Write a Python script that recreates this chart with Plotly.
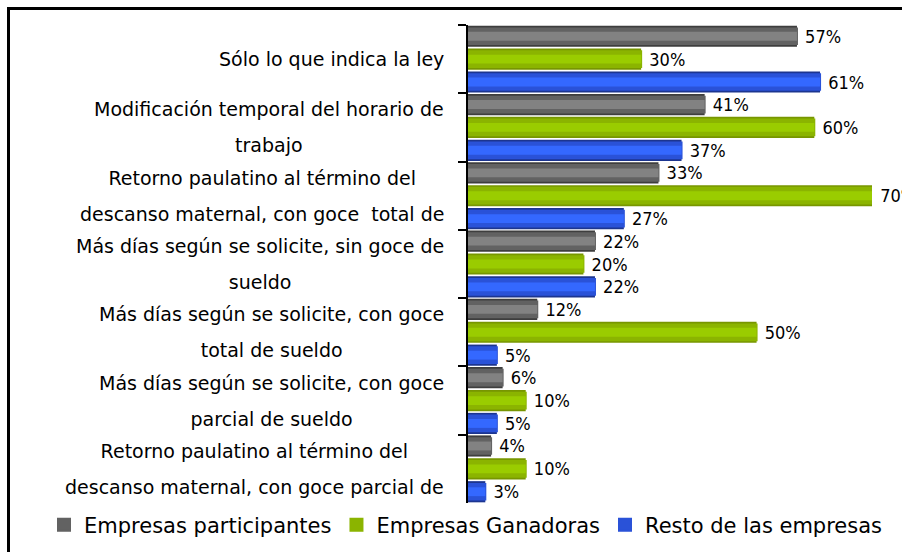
import plotly.graph_objects as go

# ---------------- data ----------------
categories = [
    "Sólo lo que indica la ley",
    "Modificación temporal del horario de<br>trabajo",
    "Retorno paulatino al término del<br>descanso maternal, con goce  total de",
    "Más días según se solicite, sin goce de<br>sueldo",
    "Más días según se solicite, con goce<br>total de sueldo",
    "Más días según se solicite, con goce<br>parcial de sueldo",
    "Retorno paulatino al término del<br>descanso maternal, con goce parcial de",
]
series_names = ["Empresas participantes", "Empresas Ganadoras", "Resto de las empresas"]
participantes = [57, 41, 33, 22, 12, 6, 4]
ganadoras = [30, 60, 70, 20, 50, 10, 10]
resto = [61, 37, 27, 22, 5, 5, 3]
series_values = [participantes, ganadoras, resto]

# ---------------- styling ----------------
# (edge, mid, centre) colours to mimic the vertical gradient of each bar
palettes = [
    ("#3e3e3e", "#626262", "#828282"),
    ("#779600", "#8bb400", "#9acc00"),
    ("#1c3590", "#2a52d8", "#3468ff"),
]
bar_w = 0.31
offsets = [-0.49, -0.155, 0.18]
insets = [0.0, 0.04, 0.09]

W, H = 902, 552
ML, MR, MT, MB = 468, 30, 25, 49
PW, PH = W - ML - MR, H - MT - MB


def px_x(px):
    return (px - ML) / PW


def px_y(py):
    return (H - MB - py) / PH


fig = go.Figure()
for s, (name, vals) in enumerate(zip(series_names, series_values)):
    for layer, inset in enumerate(insets):
        fig.add_trace(go.Bar(
            y=categories,
            x=vals,
            orientation="h",
            name=name,
            legendgroup=name,
            showlegend=(layer == 1),
            width=bar_w - 2 * inset,
            offset=offsets[s] + inset,
            marker=dict(
                color=palettes[s][layer],
                line=dict(width=2 if layer == 1 else 0, color=palettes[s][layer]),
            ),
            text=[f"\u00a0{v}%" for v in vals] if layer == 0 else None,
            textposition="outside" if layer == 0 else "none",
            textfont=dict(family="DejaVu Sans Condensed", size=18, color="#000000"),
            cliponaxis=False,
            constraintext="none",
            hoverinfo="skip" if layer else "x+y+name",
        ))

# category labels (centred lines, right aligned block, wide line spacing)
for cat in categories:
    lines = cat.split("<br>")
    txt = "<br>".join(f"<span style='font-size:19px'>{ln}</span>" for ln in lines)
    fig.add_annotation(
        x=px_x(446), xref="paper", xanchor="right",
        y=cat, yref="y", yanchor="middle",
        text=txt, showarrow=False, align="center",
        font=dict(family="DejaVu Sans", size=28, color="#000000"),
    )

# outer frame
fig.add_shape(
    type="rect", xref="paper", yref="paper",
    x0=px_x(8.5), x1=px_x(912), y0=px_y(565), y1=px_y(8.5),
    line=dict(color="#000000", width=3), fillcolor="rgba(0,0,0,0)", layer="above",
)

fig.update_layout(
    width=W, height=H, autosize=False,
    margin=dict(l=ML, r=MR, t=MT, b=MB, pad=0, autoexpand=False),
    paper_bgcolor="#ffffff", plot_bgcolor="#ffffff",
    barmode="overlay",
    font=dict(family="DejaVu Sans", color="#000000"),
    showlegend=True,
    legend=dict(
        orientation="h", x=px_x(44), xanchor="left", y=px_y(525), yanchor="middle",
        font=dict(family="DejaVu Sans", size=21, color="#000000"),
        bgcolor="rgba(0,0,0,0)", traceorder="normal",
    ),
    xaxis=dict(range=[0, 70], visible=False, showgrid=False, zeroline=False),
    yaxis=dict(
        type="category", range=[6.5, -0.5], showgrid=False, zeroline=False,
        showline=True, linecolor="#000000", linewidth=2,
        ticks="outside", ticklen=8, tickwidth=2, tickcolor="#000000",
        tickson="boundaries", showticklabels=False,
    ),
)

fig.write_html(
    "out.html",
    config={"displayModeBar": False},
    post_script="document.body.style.margin='0';document.body.style.overflow='hidden';",
)
